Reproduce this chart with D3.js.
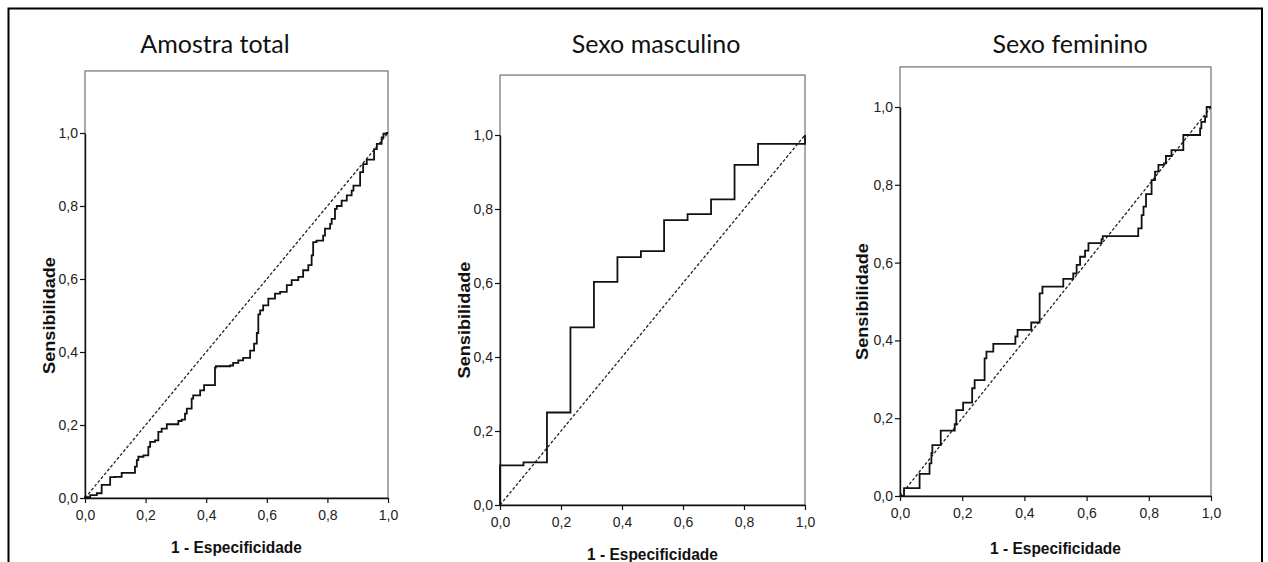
<!DOCTYPE html>
<meta charset="utf-8">
<script src="https://d3js.org/d3.v7.min.js"></script>
<style>
body { margin: 0; background: #fff; }
.tick text { font-family: "Liberation Sans", Arial, sans-serif; font-size: 14px; fill: #222; }
.title { font-family: Lato, "Open Sans", sans-serif; font-size: 25px; fill: #111; }
.axlabel { font-family: "Liberation Sans", Arial, sans-serif; font-weight: bold; fill: #111; }
</style>
<div id="chart"></div>
<script>
// ---- data ----
var panelTitles = ["Amostra total", "Sexo masculino", "Sexo feminino"];
var tickValues = [0, 0.2, 0.4, 0.6, 0.8, 1.0];
var xLabel = "1 - Especificidade";
var yLabel = "Sensibilidade";

// Amostra total
var totalFpr  = [0, 0.017, 0.039, 0.055, 0.057, 0.083, 0.099, 0.121, 0.124, 0.165, 0.171, 0.176, 0.193, 0.209, 0.215, 0.231, 0.242, 0.253, 0.27, 0.281, 0.308, 0.319, 0.33, 0.336, 0.352, 0.357, 0.38, 0.393, 0.402, 0.429, 0.432, 0.479, 0.489, 0.506, 0.522, 0.545, 0.558, 0.567, 0.572, 0.578, 0.588, 0.605, 0.627, 0.644, 0.666, 0.682, 0.704, 0.72, 0.737, 0.748, 0.753, 0.764, 0.786, 0.792, 0.809, 0.814, 0.825, 0.831, 0.847, 0.864, 0.88, 0.886, 0.908, 0.918, 0.93, 0.954, 0.963, 0.979, 0.985, 0.995, 1];
var totalSens = [0, 0.002, 0.008, 0.013, 0.036, 0.036, 0.057, 0.058, 0.069, 0.069, 0.086, 0.104, 0.113, 0.117, 0.14, 0.154, 0.158, 0.181, 0.19, 0.202, 0.202, 0.211, 0.215, 0.231, 0.245, 0.272, 0.281, 0.295, 0.309, 0.309, 0.357, 0.361, 0.363, 0.37, 0.377, 0.384, 0.404, 0.423, 0.452, 0.503, 0.514, 0.528, 0.546, 0.56, 0.565, 0.583, 0.597, 0.606, 0.624, 0.638, 0.665, 0.701, 0.705, 0.719, 0.738, 0.751, 0.765, 0.792, 0.8, 0.815, 0.829, 0.842, 0.856, 0.893, 0.915, 0.927, 0.956, 0.97, 0.988, 0.998, 1];

// Sexo masculino
var maleFpr  = [0, 0.077, 0.154, 0.231, 0.308, 0.385, 0.462, 0.538, 0.615, 0.692, 0.769, 0.846, 1, 1];
var maleSens = [0, 0.107, 0.115, 0.25, 0.48, 0.603, 0.67, 0.686, 0.77, 0.786, 0.826, 0.919, 0.976, 1];

// Sexo feminino
var femaleFpr  = [0, 0.013, 0.063, 0.095, 0.101, 0.104, 0.131, 0.176, 0.181, 0.203, 0.232, 0.24, 0.272, 0.278, 0.30, 0.371, 0.378, 0.422, 0.449, 0.458, 0.525, 0.557, 0.568, 0.579, 0.595, 0.606, 0.648, 0.652, 0.766, 0.777, 0.783, 0.791, 0.809, 0.82, 0.831, 0.849, 0.855, 0.873, 0.911, 0.965, 0.969, 0.981, 0.986, 1];
var femaleSens = [0, 0, 0.02, 0.057, 0.084, 0.11, 0.131, 0.168, 0.185, 0.221, 0.24, 0.277, 0.298, 0.354, 0.371, 0.391, 0.41, 0.427, 0.446, 0.521, 0.538, 0.558, 0.572, 0.594, 0.615, 0.631, 0.65, 0.66, 0.668, 0.688, 0.722, 0.744, 0.776, 0.812, 0.834, 0.851, 0.855, 0.874, 0.889, 0.928, 0.945, 0.962, 0.975, 1];

var curves = [[totalFpr, totalSens], [maleFpr, maleSens], [femaleFpr, femaleSens]];

// ---- layout (pixels) ----
var width = 1268, height = 562;
var panels = [
  {left: 85,  right: 388,  zero: 498, one: 133, yTop: 1.17,  titleX: 215,  ylabX: 49,  xlabY: 547},
  {left: 500, right: 805,  zero: 505, one: 135, yTop: 1.162, titleX: 656,  ylabX: 464, xlabY: 554},
  {left: 900, right: 1211, zero: 496, one: 107, yTop: 1.103, titleX: 1070, ylabX: 862, xlabY: 548}
];

var ptBR = d3.formatLocale({decimal: ",", thousands: ".", grouping: [3], currency: ["R$", ""]});
var fmt = ptBR.format(".1f");

var svg = d3.select("#chart").append("svg")
  .attr("width", width)
  .attr("height", height);

// outer frame (open at the bottom)
svg.append("path")
  .attr("d", "M8.5," + height + "V8.5H1262" + "V" + height)
  .attr("fill", "none")
  .attr("stroke", "#000")
  .attr("stroke-width", 2);

panels.forEach(function(p, i) {
  var x = d3.scaleLinear().domain([0, 1]).range([p.left, p.right]);
  var y = d3.scaleLinear().domain([0, 1]).range([p.zero, p.one]);
  var g = svg.append("g");

  // title
  g.append("text")
    .attr("class", "title")
    .attr("x", p.titleX)
    .attr("y", 53)
    .attr("text-anchor", "middle")
    .text(panelTitles[i]);

  // plot box
  g.append("rect")
    .attr("x", x(0))
    .attr("y", y(p.yTop))
    .attr("width", x(1) - x(0))
    .attr("height", y(0) - y(p.yTop))
    .attr("fill", "none")
    .attr("stroke", "#555")
    .attr("stroke-width", 1);

  // axes
  var xAxis = g.append("g")
    .attr("transform", "translate(0," + y(0) + ")")
    .call(d3.axisBottom(x).tickValues(tickValues).tickFormat(fmt).tickSize(5).tickSizeOuter(0).tickPadding(7));
  var yAxis = g.append("g")
    .attr("transform", "translate(" + x(0) + ",0)")
    .call(d3.axisLeft(y).tickValues(tickValues).tickFormat(fmt).tickSize(5).tickSizeOuter(0).tickPadding(2));
  [xAxis, yAxis].forEach(function(a) {
    a.select(".domain").attr("stroke", "#111").attr("stroke-width", 1.4);
    a.selectAll(".tick line").attr("stroke", "#111").attr("stroke-width", 1.2);
  });

  // axis labels
  g.append("text")
    .attr("class", "axlabel")
    .attr("text-anchor", "middle")
    .attr("font-size", 15.5)
    .attr("transform", "translate(" + (x(0) + x(1)) / 2 + "," + (p.xlabY + 6) + ") scale(1,1.12)")
    .text(xLabel);
  g.append("text")
    .attr("class", "axlabel")
    .attr("text-anchor", "middle")
    .attr("font-size", 16.5)
    .attr("transform", "translate(" + (p.ylabX + 6) + "," + (y(0) + y(1)) / 2 + ") rotate(-90) scale(1.1,1)")
    .text(yLabel);

  // reference diagonal
  g.append("line")
    .attr("x1", x(0)).attr("y1", y(0))
    .attr("x2", x(1)).attr("y2", y(1))
    .attr("stroke", "#222")
    .attr("stroke-width", 1.3)
    .attr("stroke-dasharray", "3,2");

  // ROC curve
  var fpr = curves[i][0], sens = curves[i][1];
  var pts = fpr.map(function(v, k) { return [v, sens[k]]; });
  var line = d3.line()
    .x(function(d) { return x(d[0]); })
    .y(function(d) { return y(d[1]); })
    .curve(d3.curveStepBefore);
  g.append("path")
    .datum(pts)
    .attr("d", line)
    .attr("fill", "none")
    .attr("stroke", "#111")
    .attr("stroke-width", 1.8);
});
</script>
